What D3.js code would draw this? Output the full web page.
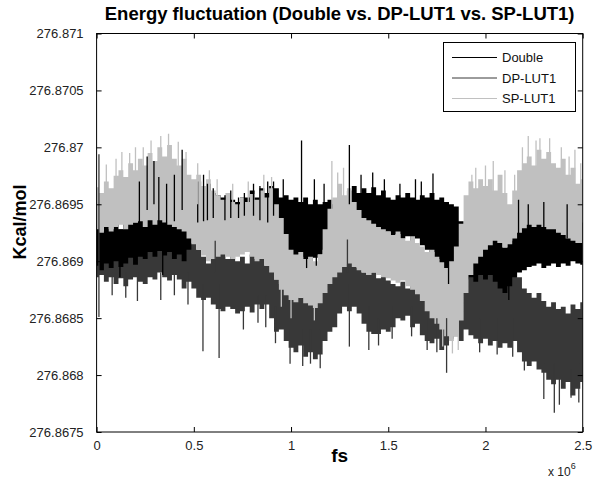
<!DOCTYPE html>
<html><head><meta charset="utf-8">
<script src="https://cdn.jsdelivr.net/npm/d3@7"></script>
<style>
body{margin:0;background:#fff;}
svg{display:block;font-family:"Liberation Sans",Arial,Helvetica,sans-serif;}
</style></head>
<body><svg id="c" width="600" height="485"></svg>
<script>
// Sample times (fs), one every 25,000 fs from 0 to 2.5e6
const times = d3.range(0, 2500001, 25000);

// Envelope of each noisy trace (upper / lower values, Kcal/mol)
const doubleHi = [276.86932,276.86926,276.86934,276.86928,276.86936,276.86928,276.86938,276.86944,276.86934,276.86942,
276.8695,276.86944,276.8695,276.86946,276.86952,276.86948,276.8695,276.86942,276.86946,276.8695,
276.86965,276.8697,276.86964,276.86968,276.8696,276.86958,276.86956,276.86958,276.86954,276.86952,
276.86956,276.86956,276.86962,276.86956,276.86964,276.8696,276.86966,276.86964,276.86956,276.86958,
276.86954,276.86956,276.86952,276.86956,276.8695,276.86954,276.8695,276.86952,276.86954,276.8695,
276.86952,276.86956,276.86962,276.86966,276.8696,276.86964,276.8696,276.86965,276.86958,276.86962,
276.86956,276.86954,276.86958,276.86956,276.8696,276.86956,276.86954,276.86958,276.86956,276.8696,
276.86954,276.86956,276.86952,276.8695,276.86948,276.86935,276.86925,276.8692,276.86924,276.86922,
276.86926,276.86922,276.8692,276.86916,276.86912,276.86918,276.8693,276.86938,276.86942,276.86936,
276.8694,276.86934,276.86938,276.86935,276.86932,276.86936,276.86934,276.8693,276.86934,276.86932,276.86934];
const doubleLo = [276.86896,276.86892,276.86898,276.86894,276.869,276.86895,276.86898,276.86903,276.86897,276.86904,
276.86902,276.86908,276.86904,276.86909,276.86905,276.86908,276.86902,276.86906,276.869,276.8691,
276.86925,276.86934,276.8693,276.86936,276.86932,276.86938,276.86934,276.86936,276.86938,276.86935,
276.86936,276.86938,276.86934,276.8693,276.86936,276.86934,276.8693,276.8692,276.86904,276.86906,
276.86904,276.869,276.86904,276.86902,276.869,276.86903,276.86906,276.8691,276.8692,276.86926,
276.8693,276.86934,276.8693,276.86928,276.86926,276.86928,276.86924,276.8693,276.86926,276.86924,
276.86926,276.86922,276.86924,276.8692,276.86922,276.86918,276.8692,276.86914,276.8691,276.86908,
276.86902,276.86894,276.8689,276.86894,276.86898,276.8689,276.86884,276.86886,276.86882,276.86888,
276.86884,276.86888,276.86882,276.86876,276.86872,276.86878,276.86886,276.8689,276.86892,276.86895,
276.86896,276.86898,276.86894,276.86896,276.86898,276.86895,276.86898,276.86896,276.869,276.86898,276.86897];

const dpHi = [276.86922,276.8692,276.86915,276.86926,276.86918,276.86928,276.8692,276.86916,276.86924,276.8693,
276.8692,276.86926,276.86932,276.86924,276.86928,276.86922,276.8693,276.86924,276.86918,276.86924,
276.86916,276.8691,276.86904,276.86898,276.86916,276.86908,276.8691,276.86902,276.86906,276.869,
276.86904,276.86898,276.86906,276.86902,276.86904,276.86896,276.86896,276.86884,276.8688,276.86876,
276.8687,276.86872,276.86868,276.8687,276.86866,276.86874,276.86878,276.8689,276.869,276.86906,
276.86912,276.86916,276.8691,276.86904,276.86894,276.8689,276.86888,276.8689,276.86885,276.86887,
276.86883,276.8688,276.86878,276.86882,276.86876,276.86878,276.86874,276.86872,276.8687,276.86873,
276.86868,276.8687,276.86882,276.8688,276.86885,276.86882,276.86888,276.8689,276.86894,276.86896,
276.86894,276.86898,276.86904,276.86896,276.86898,276.86894,276.8689,276.86886,276.86876,276.86872,
276.86868,276.86872,276.86865,276.8686,276.86864,276.86858,276.8686,276.86854,276.86862,276.86858,276.86864];
const dpLo = [276.86886,276.86888,276.86882,276.86886,276.8688,276.86885,276.86878,276.86884,276.86886,276.86882,
276.8688,276.86886,276.86884,276.8689,276.86886,276.86883,276.86888,276.86884,276.86876,276.86882,
276.86876,276.86868,276.86866,276.86868,276.86862,276.86858,276.86856,276.8686,276.86858,276.86854,
276.86856,276.8686,276.86855,276.86862,276.86858,276.86862,276.8685,276.86838,276.8684,276.8683,
276.86824,276.8682,276.86826,276.86816,276.8682,276.86814,276.86818,276.8683,276.86838,276.86842,
276.86854,276.8686,276.86856,276.8686,276.86854,276.86845,276.86838,276.86836,276.86836,276.8684,
276.86838,276.86842,276.8685,276.86848,276.86852,276.86842,276.86845,276.86835,276.8683,276.86828,
276.86832,276.86822,276.86826,276.86832,276.86834,276.8683,276.8684,276.86835,276.86832,276.86828,
276.86832,276.86826,276.8683,276.86824,276.86828,276.86824,276.8683,276.8682,276.86812,276.86808,
276.86812,276.86805,276.86802,276.86796,276.86792,276.86796,276.86788,276.86794,276.86782,276.86788,276.86794];

const spHi = [276.86965,276.8696,276.8697,276.86964,276.86975,276.8698,276.86974,276.86986,276.8698,276.8699,
276.86984,276.86995,276.86988,276.870,276.86992,276.87002,276.8699,276.86984,276.8699,276.86976,
276.86972,276.86976,276.86966,276.86972,276.86962,276.86958,276.86954,276.8696,276.86952,276.8695,
276.86956,276.86952,276.86959,276.86954,276.86962,276.86956,276.86964,276.8695,276.86938,276.86924,
276.8691,276.86906,276.86908,276.86902,276.86904,276.869,276.86906,276.86928,276.86946,276.86956,
276.86968,276.86958,276.86964,276.86952,276.86945,276.86938,276.86936,276.86933,276.8693,276.86928,
276.86926,276.86923,276.86926,276.8692,276.86918,276.86922,276.86916,276.86913,276.86908,276.8691,
276.86904,276.86899,276.86894,276.869,276.86913,276.86933,276.86958,276.8697,276.86964,276.86972,
276.86966,276.86972,276.86962,276.86976,276.8696,276.8695,276.86962,276.8698,276.86986,276.86992,
276.86984,276.86998,276.8699,276.86996,276.86986,276.86982,276.8699,276.86976,276.86982,276.86968,276.86972];
const spLo = [276.86928,276.86925,276.8693,276.86926,276.8693,276.86932,276.86928,276.86932,276.86934,276.86935,
276.8693,276.86936,276.86932,276.86936,276.86934,276.86932,276.8693,276.86928,276.86926,276.8692,
276.86915,276.8691,276.86905,276.869,276.86902,276.86904,276.86906,276.86904,276.86902,276.86904,
276.86906,276.86908,276.86904,276.869,276.86902,276.86896,276.8689,276.86884,276.86875,276.8687,
276.86866,276.86864,276.86868,276.86863,276.86861,276.86859,276.86863,276.86872,276.8688,276.86886,
276.8689,276.86895,276.86898,276.86895,276.86892,276.8689,276.86888,276.8689,276.86888,276.86886,
276.86885,276.86883,276.86881,276.86883,276.86878,276.86875,276.86871,276.86865,276.86856,276.8685,
276.86845,276.8684,276.86834,276.8683,276.86834,276.86848,276.86872,276.86888,276.86898,276.86904,
276.8691,276.86914,276.86918,276.86916,276.86912,276.86915,276.8692,276.86925,276.86929,276.86932,
276.8693,276.86932,276.8693,276.86928,276.86928,276.86925,276.86923,276.8692,276.86918,276.86916,276.86916];

// Isolated spikes: time, top and bottom value
const doubleSpikeT = [120000,220000,260000,295000,320000,340000,360000,400000,440000,520000,550000,570000,600000,660000,690000,730000,760000,807000,840000,880000,910000,960000,1054000,1080000,1120000,1130000,1170000,1300000,1360000,1420000,1480000,1560000,1640000,1670000,1730000,1810000,2120000,2170000,2220000,2300000,2420000];
const doubleSpikeTop = [276.869,276.8697,276.86992,276.86988,276.86974,276.8691,276.86968,276.86976,276.86998,276.8697,276.86976,276.86968,276.86964,276.86958,276.86962,276.86956,276.8696,276.86968,276.86966,276.8697,276.8697,276.86972,276.87006,276.8691,276.86972,276.8691,276.86968,276.87002,276.86976,276.86978,276.86972,276.86968,276.86972,276.8697,276.86977,276.869,276.8689,276.86954,276.8695,276.86952,276.8695];
const doubleSpikeBot = [276.86886,276.8693,276.86945,276.8695,276.86935,276.86888,276.8693,276.86935,276.86945,276.86934,276.86935,276.86936,276.86938,276.86936,276.86938,276.86938,276.8694,276.8694,276.86936,276.86934,276.8694,276.8694,276.8695,276.86894,276.8694,276.86896,276.8694,276.8695,276.8695,276.8695,276.8695,276.8694,276.8694,276.8694,276.86945,276.8688,276.86866,276.8692,276.8692,276.8692,276.8692];
const dpSpikeT = [12000,80000,150000,210000,330000,400000,470000,547000,610000,630000,755000,830000,870000,920000,995000,1060000,1100000,1150000,1290000,1300000,1400000,1450000,1520000,1620000,1700000,1750000,1800000,1970000,2060000,2140000,2200000,2300000,2354000,2380000,2440000,2480000];
const dpSpikeTop = [276.86994,276.8689,276.8689,276.8689,276.8689,276.8689,276.8689,276.8688,276.86918,276.8688,276.8688,276.8687,276.8687,276.8686,276.8684,276.8684,276.8684,276.8684,276.86919,276.8688,276.8686,276.8685,276.8686,276.8686,276.8685,276.8685,276.8685,276.8685,276.8685,276.8685,276.8683,276.8681,276.8681,276.8681,276.86805,276.8681];
const dpSpikeBot = [276.86851,276.8687,276.86868,276.86865,276.86866,276.8687,276.86862,276.86821,276.8689,276.86815,276.8684,276.86846,276.86842,276.86828,276.8681,276.86808,276.8681,276.86806,276.8689,276.86825,276.86822,276.86826,276.86832,276.86834,276.86822,276.8682,276.86802,276.8682,276.86818,276.86816,276.86804,276.86779,276.86767,276.86774,276.8678,276.86776];
const spSpikeT = [50000,100000,130000,170000,200000,240000,280000,330000,370000,420000,460000,520000,580000,620000,700000,780000,860000,900000,950000,1000000,1120000,1210000,1240000,1270000,1780000,1830000,1860000,1930000,1950000,2000000,2040000,2100000,2150000,2190000,2220000,2260000,2280000,2330000,2390000,2430000,2460000,2490000];
const spSpikeTop = [276.86985,276.8699,276.86996,276.86995,276.870,276.870,276.87006,276.8701,276.87012,276.87005,
276.86996,276.86986,276.8698,276.86972,276.86968,276.8697,276.86976,276.86974,276.8689,276.8689,
276.8688,276.86988,276.86978,276.86982,276.8686,276.8685,276.8685,276.86976,276.86982,276.86984,
276.86988,276.8698,276.86976,276.870,276.8701,276.87006,276.87008,276.87008,276.870,276.86992,276.86998,276.86986];
const spSpikeBot = [276.8696,276.8696,276.8697,276.8696,276.8697,276.8696,276.8697,276.8697,276.8697,276.8696,
276.8696,276.8695,276.8694,276.8694,276.8694,276.8694,276.8694,276.8694,276.8686,276.8685,
276.86848,276.8694,276.8694,276.8694,276.86825,276.86819,276.86822,276.8694,276.8694,276.8694,
276.8694,276.8694,276.8694,276.8696,276.8697,276.8697,276.8697,276.8697,276.8696,276.8696,276.8696,276.8695];

const seriesNames = ["Double", "DP-LUT1", "SP-LUT1"];
const seriesColors = ["#000000", "#383838", "#c0c0c0"];
const xTicks = [0, 500000, 1000000, 1500000, 2000000, 2500000];
const yTicks = [276.8675, 276.868, 276.8685, 276.869, 276.8695, 276.87, 276.8705, 276.871];

const svg = d3.select("#c");
const L = 96.6, R = 582.7, T = 33.5, B = 432;
const x = d3.scaleLinear().domain([0, 2500000]).range([L, R]);
const y = d3.scaleLinear().domain([276.8675, 276.871]).range([B, T]);

const plot = svg.append("g");
plot.append("clipPath").attr("id","clip").append("rect").attr("x",L).attr("y",T).attr("width",R-L).attr("height",B-T);
const g = plot.append("g").attr("clip-path","url(#clip)");

const series = [
  {name: seriesNames[0], color: seriesColors[0], hi: doubleHi, lo: doubleLo, st: doubleSpikeT, sTop: doubleSpikeTop, sBot: doubleSpikeBot},
  {name: seriesNames[1], color: seriesColors[1], hi: dpHi, lo: dpLo, st: dpSpikeT, sTop: dpSpikeTop, sBot: dpSpikeBot},
  {name: seriesNames[2], color: seriesColors[2], hi: spHi, lo: spLo, st: spSpikeT, sTop: spSpikeTop, sBot: spSpikeBot}
];
const drawOrder = [1, 0, 2];

const area = d3.area().x(d => x(d.t)).y0(d => y(d.lo)).y1(d => y(d.hi)).curve(d3.curveStep);
drawOrder.forEach(i => {
  const s = series[i];
  const pts = times.map((t, k) => ({t, hi: s.hi[k], lo: s.lo[k]}));
  g.append("path").datum(pts).attr("d", area).attr("fill", s.color);
});
drawOrder.forEach(i => {
  const s = series[i];
  g.selectAll(null).data(s.st.map((t, k) => ({t, a: s.sTop[k], b: s.sBot[k]}))).enter()
    .append("line").attr("x1", d => x(d.t)).attr("x2", d => x(d.t))
    .attr("y1", d => y(d.a)).attr("y2", d => y(d.b))
    .attr("stroke", s.color).attr("stroke-width", 1.3);
});

// Axes (box with inward ticks)
const fmtX = d => d3.format("~g")(d / 1e6);
const fmtY = d => String(+d.toFixed(4));
const axB = svg.append("g").attr("transform", `translate(0,${B})`).call(d3.axisBottom(x).tickValues(xTicks).tickSizeInner(-5).tickSizeOuter(0).tickPadding(9).tickFormat(fmtX));
const axT = svg.append("g").attr("transform", `translate(0,${T})`).call(d3.axisTop(x).tickValues(xTicks).tickSizeInner(-5).tickSizeOuter(0).tickFormat(""));
const axL = svg.append("g").attr("transform", `translate(${L},0)`).call(d3.axisLeft(y).tickValues(yTicks).tickSizeInner(-5).tickSizeOuter(0).tickPadding(13).tickFormat(fmtY));
const axR = svg.append("g").attr("transform", `translate(${R},0)`).call(d3.axisRight(y).tickValues(yTicks).tickSizeInner(-5).tickSizeOuter(0).tickFormat(""));
[axB, axT, axL, axR].forEach(a => {
  a.select(".domain").remove();
  a.selectAll(".tick line").attr("stroke", "#000");
  a.selectAll("text").attr("fill", "#222").style("font-size", "13px").style("font-family", '"Liberation Sans",Arial,sans-serif');
});
svg.append("rect").attr("x", L).attr("y", T).attr("width", R - L).attr("height", B - T)
  .attr("fill", "none").attr("stroke", "#000").attr("stroke-width", 1);

// Titles
svg.append("text").attr("x", (L + R) / 2).attr("y", 20).attr("text-anchor", "middle")
  .style("font-size", "18.5px").style("font-weight", "bold").attr("fill", "#000")
  .text("Energy fluctuation (Double vs. DP-LUT1 vs. SP-LUT1)");
svg.append("text").attr("x", (L + R) / 2).attr("y", 462).attr("text-anchor", "middle")
  .style("font-size", "19px").style("font-weight", "bold").attr("fill", "#000").text("fs");
svg.append("text").attr("transform", "translate(26,222) rotate(-90)").attr("text-anchor", "middle")
  .style("font-size", "18px").style("font-weight", "bold").attr("fill", "#000").text("Kcal/mol");
const ex = svg.append("text").attr("x", 548).attr("y", 476).style("font-size", "12px").attr("fill", "#222");
ex.append("tspan").text("x 10");
ex.append("tspan").attr("dy", -7).style("font-size", "9px").text("6");

// Legend
const lg = svg.append("g");
lg.append("rect").attr("x", 443.5).attr("y", 42.5).attr("width", 132).attr("height", 69)
  .attr("fill", "#fff").attr("stroke", "#000").attr("stroke-width", 1);
series.forEach((s, i) => {
  const yy = 57.5 + i * 20.5;
  lg.append("line").attr("x1", 452).attr("x2", 497).attr("y1", yy).attr("y2", yy).attr("stroke", s.color).attr("stroke-width", 1);
  lg.append("text").attr("x", 502).attr("y", yy + 4.5).style("font-size", "13px").attr("fill", "#111").text(s.name);
});
</script></body></html>
